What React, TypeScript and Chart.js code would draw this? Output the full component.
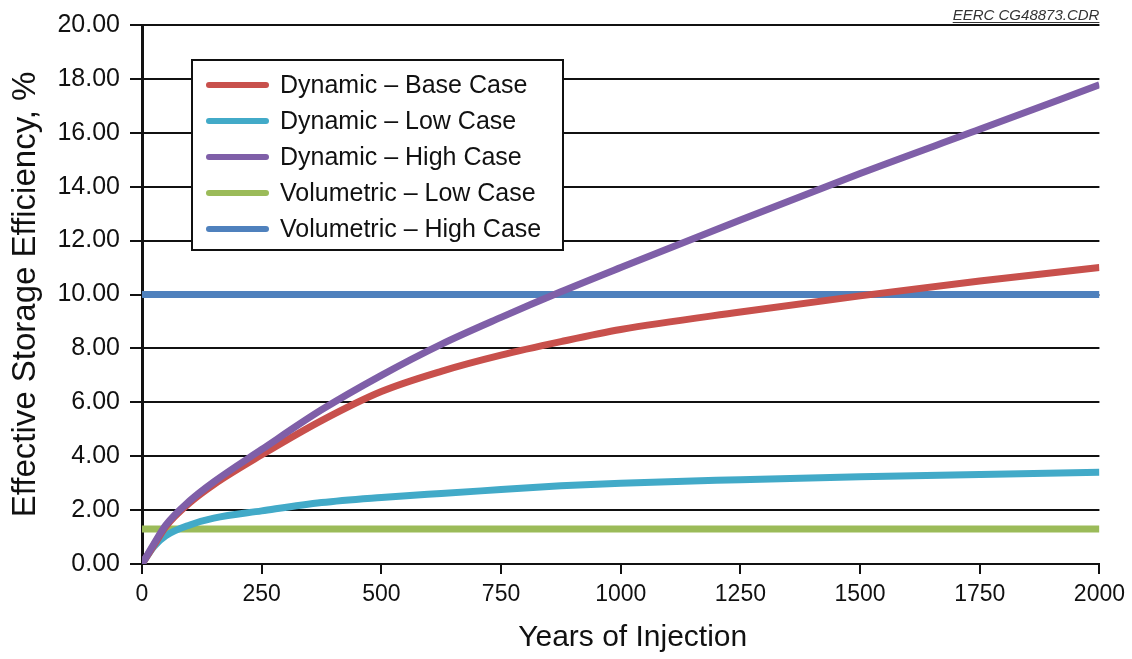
import React, { useEffect, useRef } from "react";
import { Chart, registerables } from "chart.js";

Chart.register(...registerables);

const years = [0, 25, 50, 100, 150, 250, 375, 500, 625, 750, 875, 1000, 1250, 1500, 1750, 2000];
const dynamicBase = [0, 0.7, 1.4, 2.28, 2.95, 4.05, 5.32, 6.4, 7.15, 7.75, 8.25, 8.7, 9.35, 9.95, 10.5, 11.0];
const dynamicLow = [0, 0.65, 1.05, 1.45, 1.7, 1.97, 2.28, 2.47, 2.62, 2.76, 2.9, 3.0, 3.13, 3.24, 3.32, 3.4];
const dynamicHigh = [0, 0.75, 1.45, 2.35, 3.05, 4.25, 5.72, 7.0, 8.15, 9.15, 10.1, 11.0, 12.76, 14.49, 16.13, 17.78];
const volumetricLow = [1.3, 1.3];
const volumetricHigh = [10.0, 10.0];
const volumetricYears = [0, 2000];

const seriesLabels = [
  "Dynamic \u2013 Base Case",
  "Dynamic \u2013 Low Case",
  "Dynamic \u2013 High Case",
  "Volumetric \u2013 Low Case",
  "Volumetric \u2013 High Case",
];
const seriesColors = ["#c8504c", "#42aac8", "#7f5fa8", "#9bbb59", "#4f81bd"];

const xTitle = "Years of Injection";
const yTitle = "Effective Storage Efficiency, %";
const stamp = "EERC CG48873.CDR";

const FONT = "'Liberation Sans', Arial, sans-serif";

const toPts = (xs: number[], ys: number[]) => xs.map((x, i) => ({ x, y: ys[i] }));

const overlayPlugin = {
  id: "overlay",
  afterDraw(chart: any) {
    const ctx = chart.ctx;
    const ca = chart.chartArea;
    ctx.save();
    // legend box
    const bx = ca.left + 50;
    const by = ca.top + 35;
    const bw = 371;
    const bh = 190;
    ctx.fillStyle = "#ffffff";
    ctx.fillRect(bx, by, bw, bh);
    ctx.strokeStyle = "#111";
    ctx.lineWidth = 2;
    ctx.strokeRect(bx, by, bw, bh);
    ctx.font = `25px ${FONT}`;
    ctx.textBaseline = "middle";
    ctx.textAlign = "left";
    seriesLabels.forEach((lab, i) => {
      const y = by + 25 + i * 36;
      ctx.strokeStyle = seriesColors[i];
      ctx.lineWidth = 6;
      ctx.lineCap = "round";
      ctx.beginPath();
      ctx.moveTo(bx + 17, y);
      ctx.lineTo(bx + 74, y);
      ctx.stroke();
      ctx.fillStyle = "#111";
      ctx.fillText(lab, bx + 88, y + 1);
    });
    // x axis title
    ctx.font = `30px ${FONT}`;
    ctx.fillStyle = "#111";
    ctx.textAlign = "center";
    ctx.textBaseline = "middle";
    ctx.fillText(xTitle, (ca.left + ca.right) / 2 + 12, 638);
    // stamp
    ctx.font = `italic 15px ${FONT}`;
    ctx.fillStyle = "#333";
    ctx.textAlign = "right";
    ctx.textBaseline = "alphabetic";
    const sx = ca.right;
    const sy = 20;
    ctx.fillText(stamp, sx, sy);
    const w = ctx.measureText(stamp).width;
    ctx.strokeStyle = "#333";
    ctx.lineWidth = 1;
    ctx.lineCap = "butt";
    ctx.beginPath();
    ctx.moveTo(sx - w, sy + 2.5);
    ctx.lineTo(sx, sy + 2.5);
    ctx.stroke();
    ctx.restore();
  },
};

export default function App() {
  const ref = useRef<HTMLCanvasElement>(null);
  useEffect(() => {
    document.body.style.margin = "0";
    const canvas = ref.current!;
    const chart = new Chart(canvas, {
      type: "line",
      data: {
        datasets: [
          { label: seriesLabels[0], data: toPts(years, dynamicBase), borderColor: seriesColors[0], order: 2 },
          { label: seriesLabels[1], data: toPts(years, dynamicLow), borderColor: seriesColors[1], order: 3 },
          { label: seriesLabels[2], data: toPts(years, dynamicHigh), borderColor: seriesColors[2], order: 1 },
          { label: seriesLabels[3], data: toPts(volumetricYears, volumetricLow), borderColor: seriesColors[3], order: 4 },
          { label: seriesLabels[4], data: toPts(volumetricYears, volumetricHigh), borderColor: seriesColors[4], order: 5 },
        ].map((d) => ({
          ...d,
          borderWidth: 7,
          pointRadius: 0,
          fill: false,
          cubicInterpolationMode: "monotone" as const,
          borderCapStyle: "butt" as const,
        })),
      },
      options: {
        responsive: false,
        animation: false,
        layout: { padding: { top: 25, right: 28, left: 0, bottom: 0 }, autoPadding: false },
        plugins: {
          legend: { display: false },
          tooltip: { enabled: false },
        },
        scales: {
          x: {
            type: "linear",
            min: 0,
            max: 2000,
            afterFit: (s: any) => {
              s.height = 95;
            },
            ticks: {
              stepSize: 250,
              color: "#111",
              font: { family: FONT, size: 23 },
              padding: 7,
              maxRotation: 0,
              autoSkip: false,
              callback: (v: any) => String(v),
            },
            grid: { drawOnChartArea: false, drawTicks: true, tickLength: 10, color: "#111", lineWidth: 2 },
            border: { display: true, color: "#111", width: 2 },
            title: { display: false },
          },
          y: {
            min: 0,
            max: 20,
            afterFit: (s: any) => {
              s.width = 142;
            },
            ticks: {
              stepSize: 2,
              color: "#111",
              font: { family: FONT, size: 25 },
              padding: 10,
              callback: (v: any) => Number(v).toFixed(2),
            },
            grid: { drawOnChartArea: true, drawTicks: true, tickLength: 12, color: "#111", lineWidth: 2 },
            border: { display: true, color: "#111", width: 3 },
            title: {
              display: true,
              text: yTitle,
              color: "#111",
              font: { family: FONT, size: 33 },
              padding: { top: 6, bottom: 0 },
            },
          },
        },
      },
      plugins: [overlayPlugin],
    });
    return () => chart.destroy();
  }, []);
  return (
    <div style={{ width: 1132, height: 659, background: "#fff" }}>
      <canvas ref={ref} width={1132} height={659} style={{ display: "block" }} />
    </div>
  );
}
